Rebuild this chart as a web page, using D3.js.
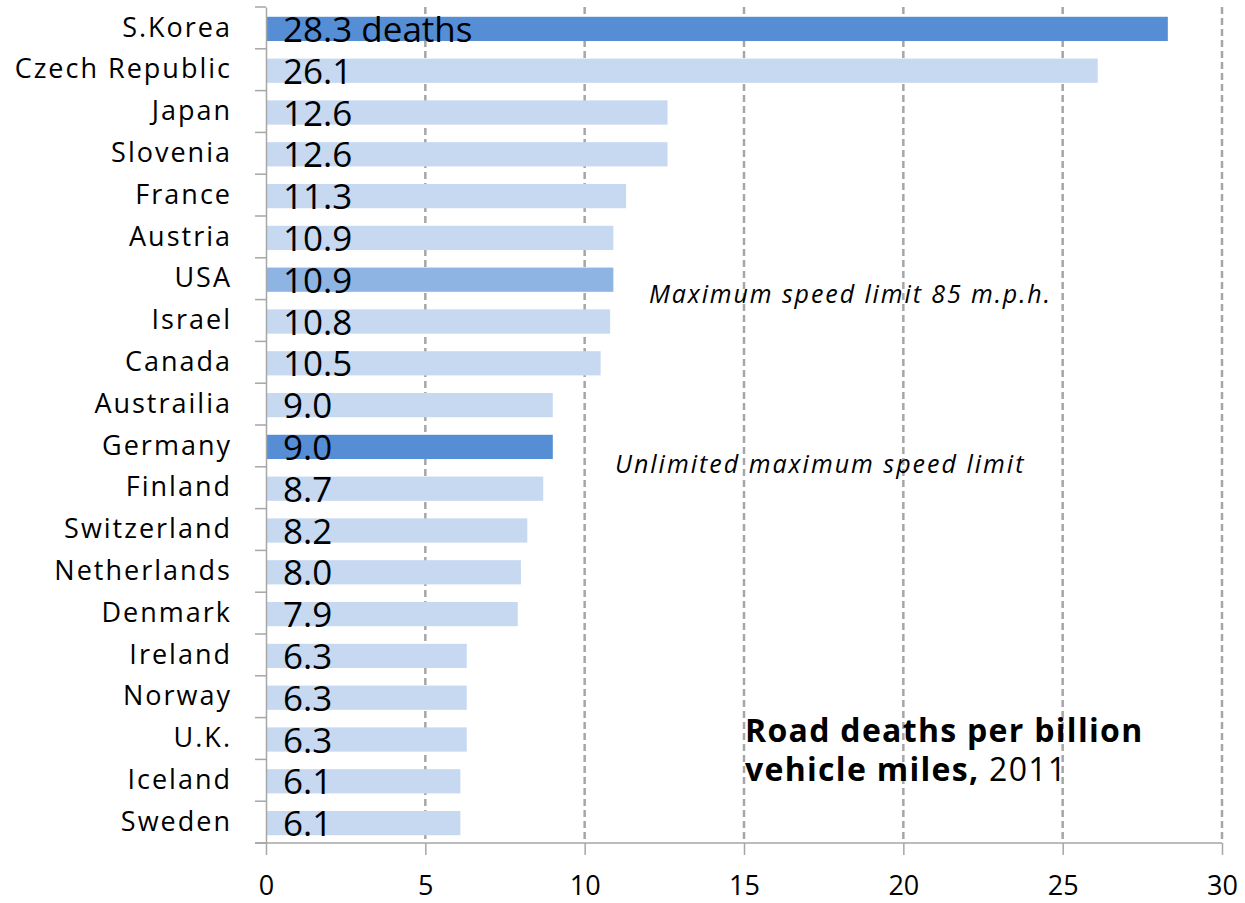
<!DOCTYPE html>
<html>
<head>
<meta charset="utf-8">
<script src="https://cdn.jsdelivr.net/npm/d3@7"></script>
<style>
  html, body { margin: 0; padding: 0; background: #fff; }
  svg { display: block; }
  text { font-family: "Open Sans", "Noto Sans", sans-serif; fill: #000; }
</style>
</head>
<body>
<svg id="chart" width="1245" height="903"></svg>
<script>
// Road deaths per billion vehicle miles, 2011
const countries = ["S.Korea", "Czech Republic", "Japan", "Slovenia", "France", "Austria", "USA",
  "Israel", "Canada", "Austrailia", "Germany", "Finland", "Switzerland", "Netherlands",
  "Denmark", "Ireland", "Norway", "U.K.", "Iceland", "Sweden"];
const deaths = [28.3, 26.1, 12.6, 12.6, 11.3, 10.9, 10.9, 10.8, 10.5, 9.0, 9.0, 8.7, 8.2, 8.0,
  7.9, 6.3, 6.3, 6.3, 6.1, 6.1];
// highlight group for each bar: "strong", "mid" or "base"
const highlight = ["strong", "base", "base", "base", "base", "base", "mid", "base", "base", "base",
  "strong", "base", "base", "base", "base", "base", "base", "base", "base", "base"];
const xTicks = [0, 5, 10, 15, 20, 25, 30];

const fills = { strong: "#558ED5", mid: "#8DB4E2", base: "#C6D9F1" };

const svg = d3.select("#chart");
const plotLeft = 266, plotRight = 1222, plotTop = 7, plotBottom = 843;

const x = d3.scaleLinear().domain([0, 30]).range([plotLeft, plotRight]);
const y = d3.scaleBand().domain(countries).range([plotTop, plotBottom]).paddingInner(0.42).paddingOuter(0.21);

// dashed vertical gridlines
svg.append("g")
  .selectAll("line")
  .data(xTicks.filter(d => d > 0))
  .join("line")
  .attr("x1", d => x(d)).attr("x2", d => x(d))
  .attr("y1", plotTop).attr("y2", plotBottom)
  .attr("stroke", "#A6A6A6")
  .attr("stroke-width", 2.5)
  .attr("stroke-dasharray", "7,4");

// bars
svg.append("g")
  .selectAll("rect")
  .data(countries)
  .join("rect")
  .attr("x", x(0))
  .attr("y", d => y(d) + 1)
  .attr("width", (d, i) => x(deaths[i]) - x(0))
  .attr("height", y.bandwidth())
  .attr("fill", (d, i) => fills[highlight[i]]);

// value labels inside bars
svg.append("g")
  .selectAll("text")
  .data(countries)
  .join("text")
  .attr("x", x(0) + 17)
  .attr("y", d => y(d) + y.bandwidth() / 2 + 14)
  .attr("font-size", 35)
  .text((d, i) => i === 0 ? deaths[i].toFixed(1) + " deaths" : deaths[i].toFixed(1));

// category axis
const yAxis = svg.append("g")
  .attr("transform", `translate(${plotLeft},0)`)
  .call(d3.axisLeft(y).tickSize(0).tickPadding(34));
yAxis.select(".domain").attr("stroke", "#A6A6A6").attr("stroke-width", 1.5);
yAxis.selectAll(".tick text")
  .attr("font-size", 27)
  .attr("letter-spacing", 2)
  .attr("fill", "#000")
  .attr("font-family", "Open Sans, sans-serif");

// boundary ticks between categories
const boundaries = d3.range(countries.length + 1)
  .map(i => plotTop + i * (plotBottom - plotTop) / countries.length);
svg.append("g")
  .selectAll("line")
  .data(boundaries)
  .join("line")
  .attr("x1", plotLeft - 11).attr("x2", plotLeft)
  .attr("y1", d => d).attr("y2", d => d)
  .attr("stroke", "#A6A6A6")
  .attr("stroke-width", 1.5);

// value axis
const xAxis = svg.append("g")
  .attr("transform", `translate(0,${plotBottom})`)
  .call(d3.axisBottom(x).tickValues(xTicks).tickSize(12).tickPadding(21));
xAxis.select(".domain").attr("d", `M${plotLeft - 11},0H${plotRight}`).attr("stroke", "#A6A6A6").attr("stroke-width", 1.5);
xAxis.selectAll(".tick line").attr("stroke", "#A6A6A6").attr("stroke-width", 1.5);
xAxis.selectAll(".tick text")
  .attr("font-size", 27)
  .attr("fill", "#000")
  .attr("font-family", "Open Sans, sans-serif");

// annotations
svg.append("text")
  .attr("x", x(24.66)).attr("y", 303)
  .attr("text-anchor", "end")
  .attr("font-size", 25)
  .attr("letter-spacing", 1.9)
  .attr("font-style", "italic")
  .text("Maximum speed limit 85 m.p.h.");

svg.append("text")
  .attr("x", x(10.95)).attr("y", 473)
  .attr("font-size", 25)
  .attr("letter-spacing", 2)
  .attr("font-style", "italic")
  .text("Unlimited maximum speed limit");

// chart title
const title = svg.append("text").attr("x", 745).attr("y", 742).attr("font-size", 32).attr("letter-spacing", 1.3);
title.append("tspan").attr("font-weight", "bold").text("Road deaths per billion");
const title2 = svg.append("text").attr("x", 745).attr("y", 781).attr("font-size", 32).attr("letter-spacing", 1.3);
title2.append("tspan").attr("font-weight", "bold").text("vehicle miles,");
title2.append("tspan").text(" 2011");
</script>
</body>
</html>
